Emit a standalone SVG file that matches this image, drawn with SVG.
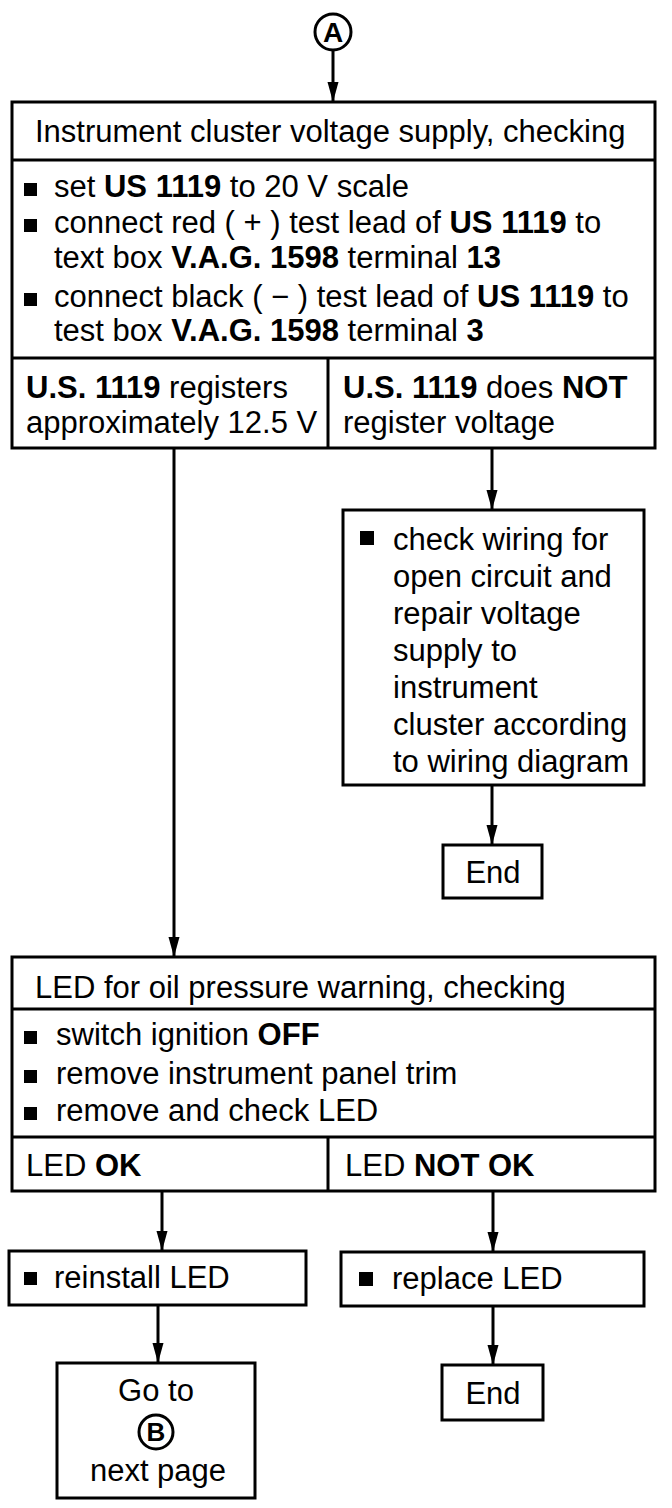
<svg xmlns="http://www.w3.org/2000/svg" width="672" height="1508" viewBox="0 0 672 1508">
<style>
.box{fill:#fff;stroke:#000;stroke-width:3}
.ln{stroke:#000;stroke-width:3;fill:none}
.t{font-family:"Liberation Sans",Arial,sans-serif;font-size:31px;fill:#000}
.b{font-weight:bold}
.con{stroke:#000;stroke-width:3;fill:none;marker-end:url(#ah)}
</style>
<defs>
<marker id="ah" viewBox="0 0 20 12" refX="20" refY="6" markerWidth="20" markerHeight="12" markerUnits="userSpaceOnUse" orient="auto">
<path d="M0,0.5 L20,6 L0,11.5 Z" fill="#000"/>
</marker>
</defs>
<rect width="672" height="1508" fill="#fff"/>

<g id="connectors">
<line class="con" x1="333" y1="50" x2="333" y2="102"/>
<line class="con" x1="174" y1="449" x2="174" y2="957"/>
<line class="con" x1="492" y1="449" x2="492" y2="510"/>
<line class="con" x1="492" y1="786" x2="492" y2="845"/>
<line class="con" x1="162" y1="1192" x2="162" y2="1251"/>
<line class="con" x1="493" y1="1192" x2="493" y2="1252"/>
<line class="con" x1="158" y1="1306" x2="158" y2="1363"/>
<line class="con" x1="493" y1="1307" x2="493" y2="1365"/>
</g>

<g id="startA">
<circle cx="333" cy="32" r="18" class="ln"/>
<text x="333" y="42" class="t b" text-anchor="middle" style="font-size:28px">A</text>
</g>

<g id="voltageCheck">
<rect class="box" x="12" y="102" width="643" height="346"/>
<line class="ln" x1="12" y1="160" x2="655" y2="160"/>
<line class="ln" x1="12" y1="358" x2="655" y2="358"/>
<line class="ln" x1="328" y1="358" x2="328" y2="448"/>
<text class="t" x="35" y="142">Instrument cluster voltage supply, checking</text>
<rect x="24" y="183" width="13" height="13" fill="#000"/>
<text class="t" x="54" y="197">set <tspan class="b">US 1119</tspan> to 20 V scale</text>
<rect x="24" y="219" width="13" height="13" fill="#000"/>
<text class="t" x="54" y="233">connect red ( + ) test lead of <tspan class="b">US 1119</tspan> to</text>
<text class="t" x="54" y="268">text box <tspan class="b">V.A.G. 1598</tspan> terminal <tspan class="b">13</tspan></text>
<rect x="24" y="293" width="13" height="13" fill="#000"/>
<text class="t" x="54" y="307">connect black ( − ) test lead of <tspan class="b">US 1119</tspan> to</text>
<text class="t" x="54" y="341">test box <tspan class="b">V.A.G. 1598</tspan> terminal <tspan class="b">3</tspan></text>
<text class="t" x="26" y="398"><tspan class="b">U.S. 1119</tspan> registers</text>
<text class="t" x="26" y="433">approximately 12.5 V</text>
<text class="t" x="343" y="398"><tspan class="b">U.S. 1119</tspan> does <tspan class="b">NOT</tspan></text>
<text class="t" x="343" y="433">register voltage</text>
</g>

<g id="repairWiring">
<rect class="box" x="343" y="510" width="301" height="275"/>
<rect x="360" y="531" width="14" height="14" fill="#000"/>
<text class="t" x="393" y="550">check wiring for</text>
<text class="t" x="393" y="587">open circuit and</text>
<text class="t" x="393" y="624">repair voltage</text>
<text class="t" x="393" y="661">supply to</text>
<text class="t" x="393" y="698">instrument</text>
<text class="t" x="393" y="735">cluster according</text>
<text class="t" x="393" y="772">to wiring diagram</text>
</g>

<g id="end1">
<rect class="box" x="443" y="845" width="99" height="53"/>
<text class="t" x="493" y="883" text-anchor="middle">End</text>
</g>

<g id="ledCheck">
<rect class="box" x="12" y="957" width="643" height="234"/>
<line class="ln" x1="12" y1="1009" x2="655" y2="1009"/>
<line class="ln" x1="12" y1="1137" x2="655" y2="1137"/>
<line class="ln" x1="328" y1="1137" x2="328" y2="1191"/>
<text class="t" x="35" y="998">LED for oil pressure warning, checking</text>
<rect x="24" y="1031" width="13" height="13" fill="#000"/>
<text class="t" x="56" y="1045">switch ignition <tspan class="b">OFF</tspan></text>
<rect x="24" y="1070" width="13" height="13" fill="#000"/>
<text class="t" x="56" y="1084">remove instrument panel trim</text>
<rect x="24" y="1107" width="13" height="13" fill="#000"/>
<text class="t" x="56" y="1121">remove and check LED</text>
<text class="t" x="26" y="1176">LED <tspan class="b">OK</tspan></text>
<text class="t" x="345" y="1176">LED <tspan class="b">NOT OK</tspan></text>
</g>

<g id="reinstallLED">
<rect class="box" x="9" y="1251" width="297" height="54"/>
<rect x="24" y="1272" width="13" height="13" fill="#000"/>
<text class="t" x="54" y="1288">reinstall LED</text>
</g>

<g id="replaceLED">
<rect class="box" x="341" y="1252" width="303" height="54"/>
<rect x="359" y="1272" width="14" height="14" fill="#000"/>
<text class="t" x="392" y="1289">replace LED</text>
</g>

<g id="gotoB">
<rect class="box" x="57" y="1363" width="198" height="135"/>
<text class="t" x="156" y="1401" text-anchor="middle">Go to</text>
<circle cx="156" cy="1432" r="17" class="ln"/>
<text class="t b" x="156" y="1441" text-anchor="middle" style="font-size:26px">B</text>
<text class="t" x="158" y="1481" text-anchor="middle">next page</text>
</g>

<g id="end2">
<rect class="box" x="442" y="1365" width="101" height="55"/>
<text class="t" x="493" y="1404" text-anchor="middle">End</text>
</g>
</svg>
